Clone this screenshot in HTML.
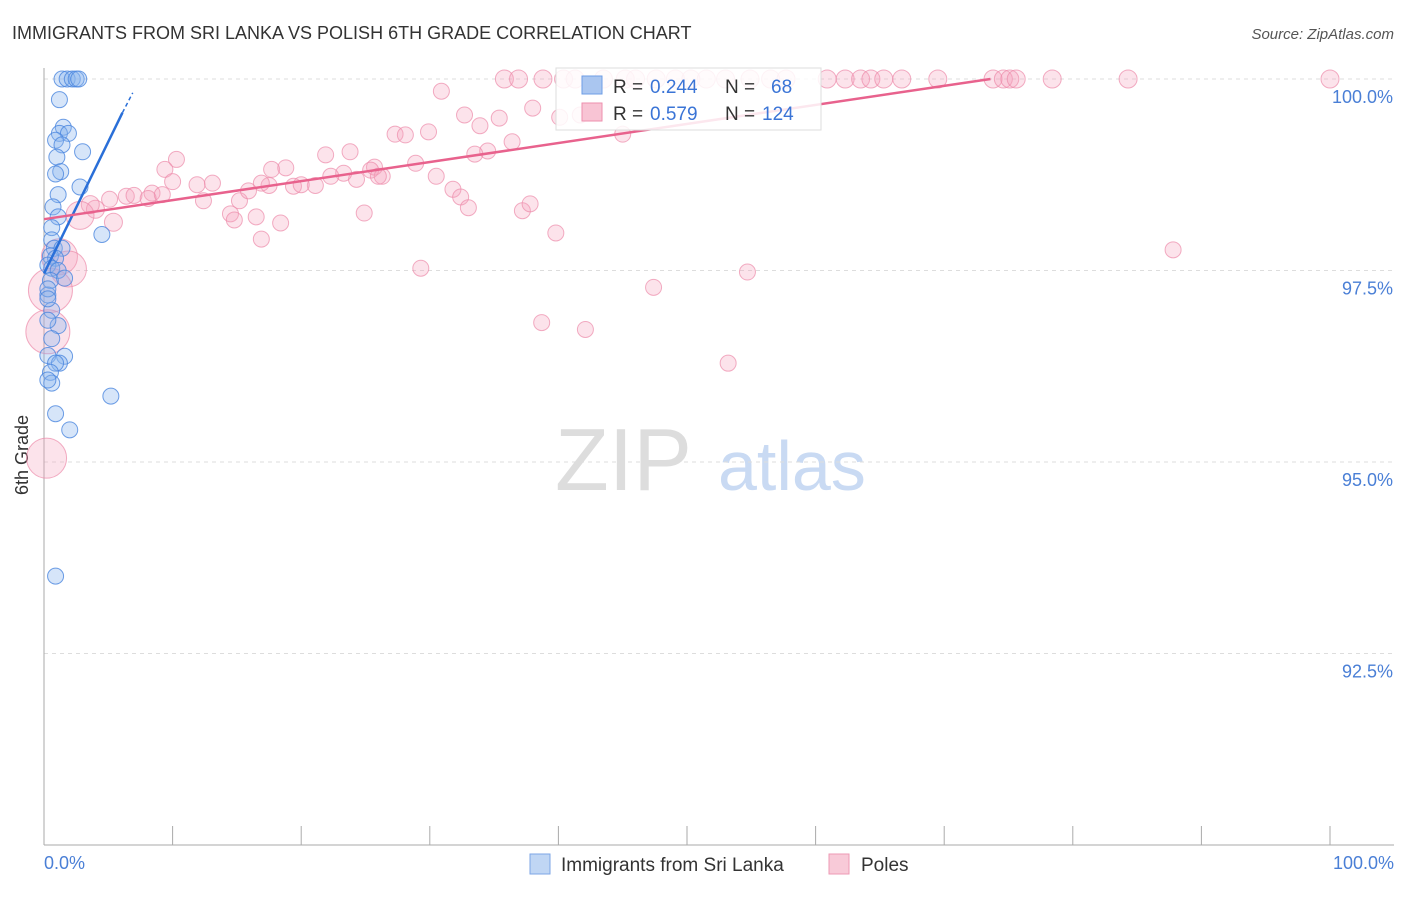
<!DOCTYPE html>
<html><head><meta charset="utf-8"><style>
body{margin:0;background:#fff;font-family:"Liberation Sans",sans-serif;}
svg text{font-family:"Liberation Sans",sans-serif;}
</style></head><body>
<svg width="1406" height="892">
<text x="12" y="39" font-size="18" fill="#333">IMMIGRANTS FROM SRI LANKA VS POLISH 6TH GRADE CORRELATION CHART</text>
<text x="1394" y="39" font-size="15" fill="#555" text-anchor="end" font-style="italic">Source: ZipAtlas.com</text>
<text x="555" y="490" font-size="88" fill="#ddd" font-family="Liberation Serif">ZIP</text>
<text x="718" y="490" font-size="70" fill="#c9daf3">atlas</text>
<g id="grid"></g>
<line x1="44" y1="68" x2="44" y2="845" stroke="#aaa"/>
<line x1="44" y1="845" x2="1394" y2="845" stroke="#aaa"/>
<text x="28" y="455" font-size="18" fill="#333" transform="rotate(-90 28 455)" text-anchor="middle">6th Grade</text>
<text x="44" y="869" font-size="18" fill="#4a7fd6">0.0%</text>
<text x="1394" y="869" font-size="18" fill="#4a7fd6" text-anchor="end">100.0%</text>
<g id="pts"></g>
<g id="lines"></g>
<g>
<rect x="556" y="68" width="265" height="62" fill="#fff" fill-opacity="0.85" stroke="#ddd"/>
<rect x="582" y="76" width="20" height="18" fill="#aac6f0" stroke="#6d9de6"/>
<text x="613" y="93" font-size="19" fill="#333">R =</text>
<text x="650" y="93" font-size="19" fill="#3a74d6">0.244</text>
<text x="725" y="93" font-size="19" fill="#333">N =</text>
<text x="771" y="93" font-size="19" fill="#3a74d6">68</text>
<rect x="582" y="103" width="20" height="18" fill="#f8c4d4" stroke="#ee8fae"/>
<text x="613" y="120" font-size="19" fill="#333">R =</text>
<text x="650" y="120" font-size="19" fill="#3a74d6">0.579</text>
<text x="725" y="120" font-size="19" fill="#333">N =</text>
<text x="762" y="120" font-size="19" fill="#3a74d6">124</text>
</g>
<g>
<rect x="530" y="854" width="20" height="20" fill="#c0d6f4" stroke="#7da6e6"/>
<text x="561" y="871" font-size="19" fill="#333">Immigrants from Sri Lanka</text>
<rect x="829" y="854" width="20" height="20" fill="#f8cad8" stroke="#ee9ab4"/>
<text x="861" y="871" font-size="19" fill="#333">Poles</text>
</g>
</svg>
<script>
const yTicks=[100,97.5,95,92.5];
const yTickLabels=["100.0%","97.5%","95.0%","92.5%"];
const xTicks=[0,10,20,30,40,50,60,70,80,90,100];
const blueX=[1.4,1.8,2.2,2.5,2.7,1.2,1.5,1.2,1.9,0.9,1.4,3.0,1.0,1.3,0.9,2.8,1.1,0.7,1.1,0.6,4.5,0.6,0.8,1.4,0.5,0.9,0.3,0.6,1.1,0.5,1.6,0.3,0.6,1.1,0.3,0.6,0.3,1.6,1.2,0.9,0.5,0.6,0.3,5.2,0.9,2.0,0.9,0.3,0.3];
const blueY=[100,100,100,100,100,99.73,99.37,99.29,99.29,99.2,99.14,99.05,98.98,98.79,98.76,98.59,98.49,98.33,98.2,98.06,97.97,97.9,97.79,97.79,97.69,97.66,97.57,97.53,97.5,97.37,97.4,97.18,96.98,96.78,96.85,96.61,96.39,96.38,96.29,96.29,96.17,96.03,96.07,95.86,95.63,95.42,93.51,97.26,97.13];
const pinkX=[35.8,36.9,38.8,40.4,41.3,43.5,45.2,46.0,47.6,49.1,50.3,51.5,53.0,54.9,56.5,57.7,60.9,62.3,63.5,64.3,65.3,66.7,69.5,73.8,74.6,75.1,75.6,78.4,84.3,100,30.9,32.7,35.4,38.0,40.1,41.7,45.0,27.3,28.1,29.9,33.9,36.4,34.5,33.5,21.9,23.8,10.3,9.4,17.7,18.8,25.7,25.4,28.9,30.5,31.8,32.4,33.0,26.3,24.3,23.3,26.0,22.3,21.1,19.4,17.5,20.0,16.9,13.1,11.9,10.0,8.4,6.4,7.0,5.1,8.1,9.2,12.4,15.2,15.9,14.5,14.8,16.5,18.4,16.9,24.9,37.2,37.8,39.8,5.4,4.0,3.6,29.3,54.7,87.8,47.4,38.7,42.1,53.2,1.2,1.9,0.5,0.3,0.2,2.8];
const pinkY=[100,100,100,100,100,100,100,100,100,100,100,100,100,100,100,100,100,100,100,100,100,100,100,100,100,100,100,100,100,100,99.84,99.53,99.49,99.62,99.5,99.53,99.28,99.28,99.27,99.31,99.39,99.18,99.06,99.02,99.01,99.05,98.95,98.82,98.82,98.84,98.85,98.81,98.9,98.73,98.56,98.46,98.32,98.73,98.69,98.77,98.73,98.73,98.61,98.6,98.61,98.62,98.64,98.64,98.62,98.66,98.51,98.47,98.48,98.43,98.44,98.49,98.41,98.41,98.54,98.24,98.16,98.2,98.12,97.91,98.25,98.28,98.37,97.99,98.13,98.3,98.36,97.53,97.48,97.77,97.28,96.82,96.73,96.29,97.68,97.52,97.24,96.7,95.05,98.22];
const pinkR=[9,9,9,9,9,9,9,9,9,9,9,9,9,9,9,9,9,9,9,9,9,9,9,9,9,9,9,9,9,9,8,8,8,8,8,8,8,8,8,8,8,8,8,8,8,8,8,8,8,8,8,8,8,8,8,8,8,8,8,8,8,8,8,8,8,8,8,8,8,8,8,8,8,8,8,8,8,8,8,8,8,8,8,8,8,8,8,8,9,9,9,8,8,8,8,8,8,8,18,18,22,22,20,14];
const blueLine=[[0,97.46],[6.1,99.56]];
const blueDash=[[6.1,99.56],[6.9,99.82]];
const pinkLine=[[0,98.17],[73.6,100]];
const X=v=>44+v*12.86, Y=v=>79+(100-v)/2.5*191.5;
const NS="http://www.w3.org/2000/svg";
function mk(t,a,p){const e=document.createElementNS(NS,t);for(const k in a)e.setAttribute(k,a[k]);document.getElementById(p).appendChild(e);return e;}
yTicks.forEach((t,i)=>{
 const l=mk('line',{x1:44,x2:1394,y1:Y(t),y2:Y(t),stroke:'#ddd','stroke-dasharray':'4,4'},'grid');
 
 
 const tx=mk('text',{x:1393,y:Y(t)+24,'font-size':18,fill:'#4a7fd6','text-anchor':'end'},'grid');
 tx.textContent=yTickLabels[i];
 
 
});
xTicks.forEach(t=>{
 const l=mk('line',{x1:X(t),x2:X(t),y1:826,y2:845,stroke:'#aaa'},'grid');
 
 
});
pinkX.forEach((v,i)=>{
 const c=mk('circle',{cx:X(v),cy:Y(pinkY[i]),r:pinkR[i],fill:'#f5a3bd','fill-opacity':0.3,stroke:'#ec8aa9','stroke-opacity':0.7},'pts');
 
 
});
blueX.forEach((v,i)=>{
 const c=mk('circle',{cx:X(v),cy:Y(blueY[i]),r:8,fill:'#8ab4ee','fill-opacity':0.35,stroke:'#4a86de','stroke-opacity':0.8},'pts');
 
 
});
let l1=mk('line',{x1:X(blueLine[0][0]),y1:Y(blueLine[0][1]),x2:X(blueLine[1][0]),y2:Y(blueLine[1][1]),stroke:'#2a6fd8','stroke-width':2.5},'lines');


let l2=mk('line',{x1:X(blueDash[0][0]),y1:Y(blueDash[0][1]),x2:X(blueDash[1][0]),y2:Y(blueDash[1][1]),stroke:'#2a6fd8','stroke-width':1.5,'stroke-dasharray':'4,3'},'lines');


let l3=mk('line',{x1:X(pinkLine[0][0]),y1:Y(pinkLine[0][1]),x2:X(pinkLine[1][0]),y2:Y(pinkLine[1][1]),stroke:'#e8628d','stroke-width':2.5},'lines');


</script>
</body></html>
